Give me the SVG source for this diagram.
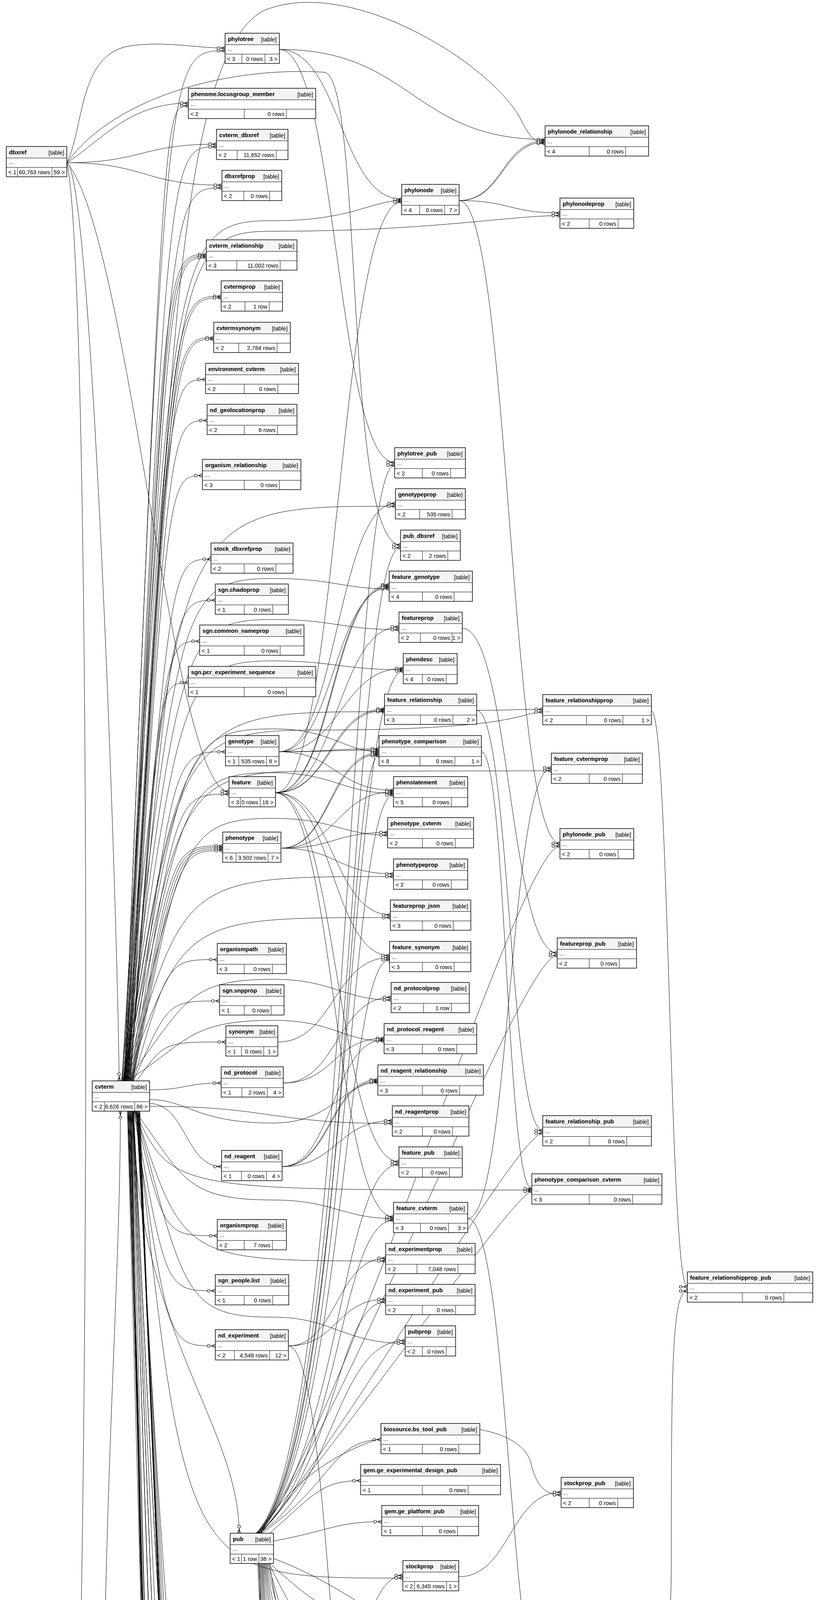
<svg xmlns="http://www.w3.org/2000/svg" xmlns:xlink="http://www.w3.org/1999/xlink" width="2096" height="6754" viewBox="0 0 2096 6754">
<style>
text{font-family:"Liberation Sans",Arial,Helvetica,sans-serif;font-size:14.67px;fill:#000}
.t{font-weight:bold}
.k,.r{text-anchor:end}
.w{fill:#fff}
.h{fill:#f4f4f4}
.l{fill:none;stroke:#000;stroke-width:1}
.o{fill:none;stroke:#000;stroke-width:1.5}
#connectors path{fill:none;stroke:#000;stroke-width:1;marker-end:url(#m)}
</style>
<defs>
<marker id="m" viewBox="0 0 24 12" refX="24" refY="6" markerWidth="24" markerHeight="12" markerUnits="userSpaceOnUse" orient="auto"><circle cx="7" cy="6" r="3.5" fill="#fff" stroke="#000" stroke-width="1.2"/><path d="M10.5,6H24M14,6L24,1.5M14,6L24,10.5" fill="none" stroke="#000" stroke-width="1.2"/></marker>
<g id="key"><circle cx="0" cy="-4" r="2.8" fill="none" stroke-width="1.8"/><path d="M0,-1.2V6M0,3.5H2.5M0,5.5H2" fill="none" stroke-width="1.6"/></g>
</defs>
<rect width="2096" height="6754" fill="#fff"/>
<g id="connectors">
<path d="M171,416.5 C235,440 300,2300 305,2767"/>
<path d="M171,416.5 C215,330 200,140 330,118 C420,104 500,123 576,123"/>
<path d="M171,416.5 C260,360 330,264 482,264"/>
<path d="M171,416.5 C362,416.5 362,369 554,369"/>
<path d="M171,416.5 C370,416.5 370,474 568,474"/>
<path d="M171,416.5 C330,600 440,2026 586,2026"/>
<path d="M171,416.5 C240,700 230,4600 175,4990 C150,5070 110,5080 120,5040 C140,4980 350,4852 572,4852"/>
<path d="M171,416.5 C300,240 600,170 830,185 C930,195 880,1395 1025,1395"/>
<path d="M318,2767 C425,130 425,130 576,130"/>
<path d="M318,2767 C420,271 420,271 482,271"/>
<path d="M319,2767 C430,376 430,376 554,376"/>
<path d="M320,2767 C435,481 435,481 568,481"/>
<path d="M321,2767 C420,651.5 420,651.5 528,651.5"/>
<path d="M322,2767 C426,655.5 426,655.5 528,655.5"/>
<path d="M323,2767 C432,659.5 432,659.5 528,659.5"/>
<path d="M324,2767 C440,758.5 440,758.5 566,758.5"/>
<path d="M325,2767 C446,762.5 446,762.5 566,762.5"/>
<path d="M326,2767 C436,864.5 436,864.5 547,864.5"/>
<path d="M327,2767 C442,868.5 442,868.5 547,868.5"/>
<path d="M328,2767 C430,971.5 430,971.5 526,971.5"/>
<path d="M329,2767 C432,1076.5 432,1076.5 530,1076.5"/>
<path d="M330,2767 C428,1217.5 428,1217.5 518,1217.5"/>
<path d="M331,2767 C436,1431.5 436,1431.5 540,1431.5"/>
<path d="M332,2767 C440,1536.5 440,1536.5 551,1536.5"/>
<path d="M333,2767 C420,1641.5 420,1641.5 511,1641.5"/>
<path d="M334,2767 C405,1747.5 405,1747.5 482,1747.5"/>
<path d="M335,2767 C445,1924.5 445,1924.5 577,1924.5"/>
<path d="M336,2767 C450,2033 450,2033 586,2033"/>
<path d="M337,2767 C440,2165.5 440,2165.5 570,2165.5"/>
<path d="M338,2767 C446,2169.5 446,2169.5 570,2169.5"/>
<path d="M339,2767 C452,2173.5 452,2173.5 570,2173.5"/>
<path d="M340,2767 C458,2177.5 458,2177.5 570,2177.5"/>
<path d="M341,2767 C430,2456.5 430,2456.5 556,2456.5"/>
<path d="M342,2767 C430,2562.5 430,2562.5 562,2562.5"/>
<path d="M350,2767 C420,2667.5 420,2667.5 578,2667.5"/>
<path d="M383,2790 C475,2790 475,2772.5 566,2772.5"/>
<path d="M383,2825 C475,2825 475,2986.5 567,2986.5"/>
<path d="M345,2844 C420,3163.5 420,3163.5 556,3163.5"/>
<path d="M344,2844 C425,3304.5 425,3304.5 551,3304.5"/>
<path d="M343,2844 C430,3445.5 430,3445.5 551,3445.5"/>
<path d="M342,2844 C345,3400 612,3650 612,3925"/>
<path d="M341,2844 C440,4859 440,4859 572,4859"/>
<path d="M340,2844 C420,4996.5 420,4996.5 530,4996.5"/>
<path d="M339,2844 C415,5246.5 415,5246.5 525,5246.5"/>
<path d="M338,2844 C400,5351.5 400,5351.5 489,5351.5"/>
<path d="M337,2844 C385,5456.5 385,5456.5 449,5456.5"/>
<path d="M336,2844 C392,5562.5 392,5562.5 466,5562.5"/>
<path d="M335,2844 C400,5668.5 400,5668.5 491,5668.5"/>
<path d="M334,2844 C405,5773.5 405,5773.5 505,5773.5"/>
<path d="M333,2844 C412,5913.5 412,5913.5 523,5913.5"/>
<path d="M332,2844 C425,6055.5 425,6055.5 586,6055.5"/>
<path d="M331,2844 C420,6232.5 420,6232.5 560,6232.5"/>
<path d="M330,2844 C425,6380.5 425,6380.5 585,6380.5"/>
<path d="M329,2844 C430,6551 430,6551 566,6551"/>
<path d="M328,2844 C436,6554.5 436,6554.5 566,6554.5"/>
<path d="M327,2844 C442,6561 442,6561 566,6561"/>
<path d="M326,2844 C430,6660 430,6660 588,6660"/>
<path d="M312,2767 C440,625 440,565 700,565 C900,565 950,513.5 1028,513.5"/>
<path d="M313,2767 C445,652 445,592 700,592 C1100,592 1300,552 1433,552"/>
<path d="M311,2767 C440,1500 400,150 680,25 C900,-60 1250,160 1330,300 C1350,340 1365,367.5 1395,367.5"/>
<path d="M314,2767 C455,1296 455,1296 1012,1296"/>
<path d="M315,2767 C458,1541 458,1481 700,1481 C850,1481 880,1507.5 996,1507.5"/>
<path d="M316,2767 C460,1646 460,1586 700,1586 C850,1586 880,1612 1021,1612"/>
<path d="M317,2767 C462,1752 462,1692 700,1692 C850,1692 880,1714.5 1032,1714.5"/>
<path d="M318,2767 C464,1822 464,1822 984,1822"/>
<path d="M319,2767 C466,1926 466,1866 700,1866 C850,1866 880,1924 970,1924"/>
<path d="M320,2767 C468,2038 468,1978 700,1978 C850,1978 880,2031 1007,2031"/>
<path d="M321,2767 C470,2155 470,2095 700,2095 C850,2095 880,2138 992,2138"/>
<path d="M322,2767 C472,2244 472,2244 1007,2244"/>
<path d="M323,2767 C474,2349 474,2349 999,2349"/>
<path d="M324,2767 C476,2567 476,2507 700,2507 C850,2507 880,2560 1001,2560"/>
<path d="M325,2767 C478,2672 478,2612 700,2612 C850,2612 880,2665 983,2665"/>
<path d="M316,2767 C455,1929 455,1869 800,1869 C1330,1869 1330,1823 1389,1823"/>
<path d="M317,2767 C457,2034 457,1974 800,1974 C1330,1974 1330,1973 1411,1973"/>
<path d="M383,2815 C480,2815 500,2875 700,2875 C850,2875 880,2771 967,2771"/>
<path d="M383,2832 C690,2832 690,2876 1004,2876"/>
<path d="M345,2844 C470,3012 470,3072 700,3072 C850,3072 880,3119.5 1007,3119.5"/>
<path d="M346,2844 C470,3228 470,3228 987,3228"/>
<path d="M347,2844 C472,3312 472,3372 700,3372 C850,3372 880,3439 1037,3439"/>
<path d="M348,2844 C474,4040 474,4040 1031,4040"/>
<path d="M349,2844 C476,5134 476,5134 980,5134"/>
<path d="M350,2844 C478,5236 478,5296 700,5296 C850,5296 880,5326 965,5326"/>
<path d="M351,2844 C480,5443 480,5503 700,5503 C850,5503 880,5582 993,5582"/>
<path d="M352,2844 C482,5658 482,5718 700,5718 C850,5718 880,5684.5 1016,5684.5"/>
<path d="M353,2844 C484,5823 484,5823 939,5823"/>
<path d="M354,2844 C486,5920 486,5980 700,5980 C850,5980 880,6077 949,6077"/>
<path d="M355,2844 C488,6181 488,6181 985,6181"/>
<path d="M356,2844 C490,6286 490,6286 1023,6286"/>
<path d="M357,2844 C492,6240 492,6300 700,6300 C850,6300 880,6392 1008,6392"/>
<path d="M358,2844 C494,6497 494,6497 985,6497"/>
<path d="M345,2844 C440,3046.5 440,3046.5 1361,3046.5"/>
<path d="M342,2844 C450,5120 450,5180 800,5180 C1330,5180 1330,5193 1385,5193"/>
<path d="M341,2844 C450,5446 450,5506 800,5506 C1330,5506 1330,5579.5 1383,5579.5"/>
<path d="M340,2844 C450,5785 450,5845 800,5845 C1330,5845 1330,5846 1421,5846"/>
<path d="M339,2844 C450,6378 450,6438 800,6438 C1330,6438 1330,6479 1413,6479"/>
<path d="M655,3925 C890,3700 890,1191 1010,1191"/>
<path d="M656,3925 C895,3700 895,1402 1025,1402"/>
<path d="M657,3925 C890,3700 890,1718 1032,1718"/>
<path d="M658,3925 C885,3700 885,1934.5 970,1934.5"/>
<path d="M659,3925 C890,3700 890,2035 1007,2035"/>
<path d="M660,3925 C880,3700 880,2457 997,2457"/>
<path d="M661,3925 C875,3700 875,2981 1021,2981"/>
<path d="M662,3925 C870,3750 870,3124 1007,3124"/>
<path d="M663,3925 C865,3750 865,3333 987,3333"/>
<path d="M664,3925 C860,3800 860,3432 1037,3432"/>
<path d="M670,3925 C850,3800 850,3685.5 975,3685.5"/>
<path d="M690,3925 C800,3830 820,3790.5 923,3790.5"/>
<path d="M700,3945 C840,3920 860,3895.5 977,3895.5"/>
<path d="M665,3925 C900,3600 1330,2166 1433,2166"/>
<path d="M666,3925 C900,3600 1335,2446 1426,2446"/>
<path d="M667,3925 C900,3650 1325,2901 1389,2901"/>
<path d="M668,3925 C900,3650 1320,3050 1361,3050"/>
<path d="M665,3925 C850,3600 1330,3600 1360,3750 C1375,3810 1400,3827 1436,3827"/>
<path d="M690,4002 C760,4500 1000,4790 1250,4765 C1600,4730 1718,4480 1718,4000 C1718,3500 1720,3305 1759,3305"/>
<path d="M690,4002 C800,4100 850,4141.5 955,4141.5"/>
<path d="M688,4002 C760,4150 840,4283.5 947,4283.5"/>
<path d="M686,4002 C740,4200 800,4388.5 906,4388.5"/>
<path d="M684,4002 C730,4250 860,4493.5 976,4493.5"/>
<path d="M682,4002 C720,4300 870,4599.5 1008,4599.5"/>
<path d="M680,4002 C715,4350 870,4704.5 1020,4704.5"/>
<path d="M678,4002 C710,4400 870,4845.5 1028,4845.5"/>
<path d="M676,4002 C705,4450 840,4951.5 960,4951.5"/>
<path d="M674,4002 C700,4600 850,5268 965,5268"/>
<path d="M672,4002 C695,4650 850,5297 965,5297"/>
<path d="M670,4002 C690,4700 880,5442 1031,5442"/>
<path d="M668,4002 C685,4800 880,5689 1016,5689"/>
<path d="M666,4002 C680,4900 820,5830 939,5830"/>
<path d="M664,4002 C675,5000 880,5936 1023,5936"/>
<path d="M700,3990 C1000,4100 1300,4426 1411,4426"/>
<path d="M662,4002 C700,5000 1300,5418 1398,5418"/>
<path d="M660,4002 C690,5100 1300,5583 1383,5583"/>
<path d="M715,126.5 C871,126.5 871,510 1028,510"/>
<path d="M715,126.5 C862,126.5 862,1184 1010,1184"/>
<path d="M715,126.5 C1055,126.5 1055,357 1395,357"/>
<path d="M705,2029.5 C866,2029.5 866,517 1028,517"/>
<path d="M705,2029.5 C850,2029.5 850,1497 996,1497"/>
<path d="M705,2029.5 C852,2029.5 852,1500.5 996,1500.5"/>
<path d="M705,2029.5 C863,2029.5 863,1605 1021,1605"/>
<path d="M705,2029.5 C844,2029.5 844,1815 984,1815"/>
<path d="M705,2029.5 C846,2029.5 846,1818.5 984,1818.5"/>
<path d="M705,2029.5 C852,2029.5 852,2342 999,2342"/>
<path d="M705,2029.5 C851,2029.5 851,2446 997,2446"/>
<path d="M705,2029.5 C863,2029.5 863,2974 1021,2974"/>
<path d="M705,2029.5 C856,2029.5 856,3115 1007,3115"/>
<path d="M714,1924.5 C863,1924.5 863,1289 1012,1289"/>
<path d="M714,1924.5 C855,1924.5 855,1504 996,1504"/>
<path d="M714,1924.5 C873,1924.5 873,1711 1032,1711"/>
<path d="M714,1924.5 C842,1924.5 842,1917 970,1917"/>
<path d="M714,1924.5 C842,1924.5 842,1920.5 970,1920.5"/>
<path d="M714,1924.5 C860,1924.5 860,2023 1007,2023"/>
<path d="M719,2171.5 C844,2171.5 844,1927.5 970,1927.5"/>
<path d="M719,2171.5 C846,2171.5 846,1931 970,1931"/>
<path d="M719,2171.5 C863,2171.5 863,2027 1007,2027"/>
<path d="M719,2171.5 C855,2171.5 855,2131 992,2131"/>
<path d="M719,2171.5 C863,2171.5 863,2237 1007,2237"/>
<path d="M711,2667.5 C854,2667.5 854,2451.5 997,2451.5"/>
<path d="M725,2772.5 C863,2772.5 863,2553 1001,2553"/>
<path d="M725,2772.5 C854,2772.5 854,2658 983,2658"/>
<path d="M722,2986.5 C852,2986.5 852,2661.5 983,2661.5"/>
<path d="M722,2986.5 C844,2986.5 844,2764 967,2764"/>
<path d="M722,2986.5 C846,2986.5 846,2767.5 967,2767.5"/>
<path d="M722,2986.5 C863,2986.5 863,2869 1004,2869"/>
<path d="M738,3445.5 C862,3445.5 862,3221 987,3221"/>
<path d="M738,3445.5 C862,3445.5 862,3326 987,3326"/>
<path d="M738,3445.5 C859,3445.5 859,5125 980,5125"/>
<path d="M718,4855.5 C874,4855.5 874,4033 1031,4033"/>
<path d="M718,4855.5 C849,4855.5 849,5129.5 980,5129.5"/>
<path d="M718,4855.5 C874,4855.5 874,5435 1031,5435"/>
<path d="M718,4855.5 C855,4855.5 855,5573 993,5573"/>
<path d="M718,4855.5 C857,4855.5 857,5576.5 993,5576.5"/>
<path d="M718,4855.5 C867,4855.5 867,5680 1016,5680"/>
<path d="M705,6055.5 C864,6055.5 864,5929 1023,5929"/>
<path d="M705,6055.5 C827,6055.5 827,6070 949,6070"/>
<path d="M705,6055.5 C845,6055.5 845,6172 985,6172"/>
<path d="M705,6055.5 C847,6055.5 847,6175.5 985,6175.5"/>
<path d="M705,6055.5 C864,6055.5 864,6279 1023,6279"/>
<path d="M705,6380.5 C856,6380.5 856,6385 1008,6385"/>
<path d="M705,6380.5 C845,6380.5 845,6487 985,6487"/>
<path d="M705,6380.5 C847,6380.5 847,6490.5 985,6490.5"/>
<path d="M147,6557.5 C350,6557.5 350,6557.5 566,6557.5"/>
<path d="M147,6557.5 C370,6557.5 370,6666 588,6666"/>
<path d="M147,6557.5 C230,6540 262,5600 262,4800 C262,3800 308,3300 308,2844"/>
<path d="M1175,513.5 C1285,513.5 1285,360.5 1395,360.5"/>
<path d="M1175,513.5 C1287,513.5 1287,364 1395,364"/>
<path d="M1175,513.5 C1304,513.5 1304,545 1433,545"/>
<path d="M1175,513.5 C1304,513.5 1304,2159 1433,2159"/>
<path d="M1183,1608.5 C1304,1608.5 1304,2439 1426,2439"/>
<path d="M1220,1818.5 C1304,1818.5 1304,1816 1389,1816"/>
<path d="M1220,1818.5 C1304,1818.5 1304,2894 1389,2894"/>
<path d="M1232,1924.5 C1296,1924.5 1296,3043 1361,3043"/>
<path d="M1197,3119.5 C1304,3119.5 1304,1966 1411,1966"/>
<path d="M1197,3119.5 C1304,3119.5 1304,4419 1411,4419"/>
<path d="M1174,4036.5 C1305,4036.5 1305,3820 1436,3820"/>
<path d="M1222,5129.5 C1303,5129.5 1303,5186 1385,5186"/>
<path d="M1210,5579.5 C1304,5579.5 1304,5411 1398,5411"/>
<path d="M1210,5579.5 C1296,5579.5 1296,5576 1383,5576"/>
<path d="M1188,5684.5 C1304,5684.5 1304,5839 1421,5839"/>
<path d="M1196,6388.5 C1304,6388.5 1304,6472 1413,6472"/>
<path d="M1667,1819.5 C1713,1819.5 1713,3294 1759,3294"/>
</g>
<g id="nodes">
<g id="dbxref" transform="translate(16,375)"><rect class="w" width="155" height="77.5"/><rect class="h" width="155" height="29.5"/><path class="l" d="M0,29.5H155M0,53.5H155M29,53.5V77.5M117,53.5V77.5"/><text class="t" x="7" y="19.5">dbxref</text><text class="k" x="148" y="20.5">[table]</text><text x="6" y="45">...</text><text x="5" y="70.5">&lt; 1</text><text class="r" x="112" y="70.5">60,763 rows</text><text class="r" x="150" y="70.5">59 &gt;</text><rect class="o" width="155" height="77.5"/></g>
<g id="cvterm" transform="translate(236,2767)"><rect class="w" width="147" height="77.5"/><rect class="h" width="147" height="29.5"/><path class="l" d="M0,29.5H147M0,53.5H147M31,53.5V77.5M109,53.5V77.5"/><text class="t" x="7" y="19.5">cvterm</text><text class="k" x="140" y="20.5">[table]</text><text x="6" y="45">...</text><text x="5" y="70.5">&lt; 2</text><text class="r" x="104" y="70.5">8,626 rows</text><text class="r" x="142" y="70.5">86 &gt;</text><rect class="o" width="147" height="77.5"/></g>
<g id="cv" transform="translate(40,6516)"><rect class="w" width="107" height="77.5"/><rect class="h" width="107" height="29.5"/><path class="l" d="M0,29.5H107M0,53.5H107M17,53.5V77.5M77,53.5V77.5"/><text class="t" x="7" y="19.5">cv</text><text class="k" x="100" y="20.5">[table]</text><text x="6" y="45">...</text><text class="r" x="72" y="70.5">45 rows</text><text class="r" x="102" y="70.5">4 &gt;</text><rect class="o" width="107" height="77.5"/></g>
<g id="phylotree" transform="translate(576,85)"><rect class="w" width="139" height="77.5"/><rect class="h" width="139" height="29.5"/><path class="l" d="M0,29.5H139M0,53.5H139M43,53.5V77.5M102,53.5V77.5"/><text class="t" x="7" y="19.5">phylotree</text><text class="k" x="132" y="20.5">[table]</text><text x="6" y="45">...</text><text x="5" y="70.5">&lt; 3</text><text class="r" x="97" y="70.5">0 rows</text><text class="r" x="134" y="70.5">3 &gt;</text><rect class="o" width="139" height="77.5"/></g>
<g id="phenome_locusgroup_member" transform="translate(482,226)"><rect class="w" width="326" height="77.5"/><rect class="h" width="326" height="29.5"/><path class="l" d="M0,29.5H326M0,53.5H326M143,53.5V77.5M251,53.5V77.5"/><text class="t" x="7" y="19.5">phenome.locusgroup_member</text><text class="k" x="319" y="20.5">[table]</text><text x="6" y="45">...</text><text x="5" y="70.5">&lt; 2</text><text class="r" x="246" y="70.5">0 rows</text><rect class="o" width="326" height="77.5"/></g>
<g id="cvterm_dbxref" transform="translate(554,331)"><rect class="w" width="183" height="77.5"/><rect class="h" width="183" height="29.5"/><path class="l" d="M0,29.5H183M0,53.5H183M53,53.5V77.5M153,53.5V77.5"/><text class="t" x="7" y="19.5">cvterm_dbxref</text><text class="k" x="176" y="20.5">[table]</text><text x="6" y="45">...</text><text x="5" y="70.5">&lt; 2</text><text class="r" x="148" y="70.5">11,652 rows</text><rect class="o" width="183" height="77.5"/></g>
<g id="dbxrefprop" transform="translate(568,436)"><rect class="w" width="153" height="77.5"/><rect class="h" width="153" height="29.5"/><path class="l" d="M0,29.5H153M0,53.5H153M56,53.5V77.5M122,53.5V77.5"/><text class="t" x="7" y="19.5">dbxrefprop</text><text class="k" x="146" y="20.5">[table]</text><text x="6" y="45">...</text><text x="5" y="70.5">&lt; 2</text><text class="r" x="117" y="70.5">0 rows</text><rect class="o" width="153" height="77.5"/></g>
<g id="cvterm_relationship" transform="translate(528,614)"><rect class="w" width="232" height="77.5"/><rect class="h" width="232" height="29.5"/><path class="l" d="M0,29.5H232M0,53.5H232M78,53.5V77.5M189,53.5V77.5"/><text class="t" x="7" y="19.5">cvterm_relationship</text><text class="k" x="225" y="20.5">[table]</text><text x="6" y="45">...</text><text x="5" y="70.5">&lt; 3</text><text class="r" x="184" y="70.5">11,002 rows</text><rect class="o" width="232" height="77.5"/></g>
<g id="cvtermprop" transform="translate(566,719)"><rect class="w" width="157" height="77.5"/><rect class="h" width="157" height="29.5"/><path class="l" d="M0,29.5H157M0,53.5H157M61,53.5V77.5M123,53.5V77.5"/><text class="t" x="7" y="19.5">cvtermprop</text><text class="k" x="150" y="20.5">[table]</text><text x="6" y="45">...</text><text x="5" y="70.5">&lt; 2</text><text class="r" x="118" y="70.5">1 row</text><rect class="o" width="157" height="77.5"/></g>
<g id="cvtermsynonym" transform="translate(547,825)"><rect class="w" width="196" height="77.5"/><rect class="h" width="196" height="29.5"/><path class="l" d="M0,29.5H196M0,53.5H196M64,53.5V77.5M162,53.5V77.5"/><text class="t" x="7" y="19.5">cvtermsynonym</text><text class="k" x="189" y="20.5">[table]</text><text x="6" y="45">...</text><text x="5" y="70.5">&lt; 2</text><text class="r" x="157" y="70.5">2,784 rows</text><rect class="o" width="196" height="77.5"/></g>
<g id="environment_cvterm" transform="translate(526,930)"><rect class="w" width="238" height="77.5"/><rect class="h" width="238" height="29.5"/><path class="l" d="M0,29.5H238M0,53.5H238M99,53.5V77.5M185,53.5V77.5"/><text class="t" x="7" y="19.5">environment_cvterm</text><text class="k" x="231" y="20.5">[table]</text><text x="6" y="45">...</text><text x="5" y="70.5">&lt; 2</text><text class="r" x="180" y="70.5">0 rows</text><rect class="o" width="238" height="77.5"/></g>
<g id="nd_geolocationprop" transform="translate(530,1035)"><rect class="w" width="230" height="77.5"/><rect class="h" width="230" height="29.5"/><path class="l" d="M0,29.5H230M0,53.5H230M95,53.5V77.5M180,53.5V77.5"/><text class="t" x="7" y="19.5">nd_geolocationprop</text><text class="k" x="223" y="20.5">[table]</text><text x="6" y="45">...</text><text x="5" y="70.5">&lt; 2</text><text class="r" x="175" y="70.5">6 rows</text><rect class="o" width="230" height="77.5"/></g>
<g id="organism_relationship" transform="translate(518,1176)"><rect class="w" width="252" height="77.5"/><rect class="h" width="252" height="29.5"/><path class="l" d="M0,29.5H252M0,53.5H252M107,53.5V77.5M197,53.5V77.5"/><text class="t" x="7" y="19.5">organism_relationship</text><text class="k" x="245" y="20.5">[table]</text><text x="6" y="45">...</text><text x="5" y="70.5">&lt; 3</text><text class="r" x="192" y="70.5">0 rows</text><rect class="o" width="252" height="77.5"/></g>
<g id="stock_dbxrefprop" transform="translate(540,1390)"><rect class="w" width="210" height="77.5"/><rect class="h" width="210" height="29.5"/><path class="l" d="M0,29.5H210M0,53.5H210M85,53.5V77.5M166,53.5V77.5"/><text class="t" x="7" y="19.5">stock_dbxrefprop</text><text class="k" x="203" y="20.5">[table]</text><text x="6" y="45">...</text><text x="5" y="70.5">&lt; 2</text><text class="r" x="161" y="70.5">0 rows</text><rect class="o" width="210" height="77.5"/></g>
<g id="sgn_chadoprop" transform="translate(551,1495)"><rect class="w" width="187" height="77.5"/><rect class="h" width="187" height="29.5"/><path class="l" d="M0,29.5H187M0,53.5H187M74,53.5V77.5M147,53.5V77.5"/><text class="t" x="7" y="19.5">sgn.chadoprop</text><text class="k" x="180" y="20.5">[table]</text><text x="6" y="45">...</text><text x="5" y="70.5">&lt; 1</text><text class="r" x="142" y="70.5">0 rows</text><rect class="o" width="187" height="77.5"/></g>
<g id="sgn_common_nameprop" transform="translate(511,1600)"><rect class="w" width="267" height="77.5"/><rect class="h" width="267" height="29.5"/><path class="l" d="M0,29.5H267M0,53.5H267M114,53.5V77.5M206,53.5V77.5"/><text class="t" x="7" y="19.5">sgn.common_nameprop</text><text class="k" x="260" y="20.5">[table]</text><text x="6" y="45">...</text><text x="5" y="70.5">&lt; 1</text><text class="r" x="201" y="70.5">0 rows</text><rect class="o" width="267" height="77.5"/></g>
<g id="sgn_pcr_experiment_sequence" transform="translate(482,1706)"><rect class="w" width="326" height="77.5"/><rect class="h" width="326" height="29.5"/><path class="l" d="M0,29.5H326M0,53.5H326M143,53.5V77.5M251,53.5V77.5"/><text class="t" x="7" y="19.5">sgn.pcr_experiment_sequence</text><text class="k" x="319" y="20.5">[table]</text><text x="6" y="45">...</text><text x="5" y="70.5">&lt; 1</text><text class="r" x="246" y="70.5">0 rows</text><rect class="o" width="326" height="77.5"/></g>
<g id="genotype" transform="translate(577,1883)"><rect class="w" width="137" height="77.5"/><rect class="h" width="137" height="29.5"/><path class="l" d="M0,29.5H137M0,53.5H137M34,53.5V77.5M105,53.5V77.5"/><text class="t" x="7" y="19.5">genotype</text><text class="k" x="130" y="20.5">[table]</text><text x="6" y="45">...</text><text x="5" y="70.5">&lt; 1</text><text class="r" x="100" y="70.5">535 rows</text><text class="r" x="132" y="70.5">8 &gt;</text><rect class="o" width="137" height="77.5"/></g>
<g id="feature" transform="translate(586,1988)"><rect class="w" width="119" height="77.5"/><rect class="h" width="119" height="29.5"/><path class="l" d="M0,29.5H119M0,53.5H119M29,53.5V77.5M80,53.5V77.5"/><text class="t" x="7" y="19.5">feature</text><text class="k" x="112" y="20.5">[table]</text><text x="6" y="45">...</text><text x="5" y="70.5">&lt; 3</text><text class="r" x="75" y="70.5">0 rows</text><text class="r" x="114" y="70.5">16 &gt;</text><rect class="o" width="119" height="77.5"/></g>
<g id="phenotype" transform="translate(570,2130)"><rect class="w" width="149" height="77.5"/><rect class="h" width="149" height="29.5"/><path class="l" d="M0,29.5H149M0,53.5H149M34,53.5V77.5M116,53.5V77.5"/><text class="t" x="7" y="19.5">phenotype</text><text class="k" x="142" y="20.5">[table]</text><text x="6" y="45">...</text><text x="5" y="70.5">&lt; 6</text><text class="r" x="111" y="70.5">3,502 rows</text><text class="r" x="144" y="70.5">7 &gt;</text><rect class="o" width="149" height="77.5"/></g>
<g id="organismpath" transform="translate(556,2415)"><rect class="w" width="177" height="77.5"/><rect class="h" width="177" height="29.5"/><path class="l" d="M0,29.5H177M0,53.5H177M69,53.5V77.5M141,53.5V77.5"/><text class="t" x="7" y="19.5">organismpath</text><text class="k" x="170" y="20.5">[table]</text><text x="6" y="45">...</text><text x="5" y="70.5">&lt; 3</text><text class="r" x="136" y="70.5">0 rows</text><rect class="o" width="177" height="77.5"/></g>
<g id="sgn_snpprop" transform="translate(562,2521)"><rect class="w" width="165" height="77.5"/><rect class="h" width="165" height="29.5"/><path class="l" d="M0,29.5H165M0,53.5H165M63,53.5V77.5M132,53.5V77.5"/><text class="t" x="7" y="19.5">sgn.snpprop</text><text class="k" x="158" y="20.5">[table]</text><text x="6" y="45">...</text><text x="5" y="70.5">&lt; 1</text><text class="r" x="127" y="70.5">0 rows</text><rect class="o" width="165" height="77.5"/></g>
<g id="synonym" transform="translate(578,2626)"><rect class="w" width="133" height="77.5"/><rect class="h" width="133" height="29.5"/><path class="l" d="M0,29.5H133M0,53.5H133M40,53.5V77.5M97,53.5V77.5"/><text class="t" x="7" y="19.5">synonym</text><text class="k" x="126" y="20.5">[table]</text><text x="6" y="45">...</text><text x="5" y="70.5">&lt; 1</text><text class="r" x="92" y="70.5">0 rows</text><text class="r" x="128" y="70.5">1 &gt;</text><rect class="o" width="133" height="77.5"/></g>
<g id="nd_protocol" transform="translate(566,2731)"><rect class="w" width="159" height="77.5"/><rect class="h" width="159" height="29.5"/><path class="l" d="M0,29.5H159M0,53.5H159M53,53.5V77.5M118,53.5V77.5"/><text class="t" x="7" y="19.5">nd_protocol</text><text class="k" x="152" y="20.5">[table]</text><text x="6" y="45">...</text><text x="5" y="70.5">&lt; 1</text><text class="r" x="113" y="70.5">2 rows</text><text class="r" x="154" y="70.5">4 &gt;</text><rect class="o" width="159" height="77.5"/></g>
<g id="nd_reagent" transform="translate(567,2945)"><rect class="w" width="155" height="77.5"/><rect class="h" width="155" height="29.5"/><path class="l" d="M0,29.5H155M0,53.5H155M51,53.5V77.5M115,53.5V77.5"/><text class="t" x="7" y="19.5">nd_reagent</text><text class="k" x="148" y="20.5">[table]</text><text x="6" y="45">...</text><text x="5" y="70.5">&lt; 1</text><text class="r" x="110" y="70.5">0 rows</text><text class="r" x="150" y="70.5">4 &gt;</text><rect class="o" width="155" height="77.5"/></g>
<g id="organismprop" transform="translate(556,3122)"><rect class="w" width="177" height="77.5"/><rect class="h" width="177" height="29.5"/><path class="l" d="M0,29.5H177M0,53.5H177M69,53.5V77.5M141,53.5V77.5"/><text class="t" x="7" y="19.5">organismprop</text><text class="k" x="170" y="20.5">[table]</text><text x="6" y="45">...</text><text x="5" y="70.5">&lt; 2</text><text class="r" x="136" y="70.5">7 rows</text><rect class="o" width="177" height="77.5"/></g>
<g id="sgn_people_list" transform="translate(551,3263)"><rect class="w" width="188" height="77.5"/><rect class="h" width="188" height="29.5"/><path class="l" d="M0,29.5H188M0,53.5H188M74,53.5V77.5M147,53.5V77.5"/><text class="t" x="7" y="19.5">sgn_people.list</text><text class="k" x="181" y="20.5">[table]</text><text x="6" y="45">...</text><text x="5" y="70.5">&lt; 1</text><text class="r" x="142" y="70.5">0 rows</text><rect class="o" width="188" height="77.5"/></g>
<g id="nd_experiment" transform="translate(551,3404)"><rect class="w" width="187" height="77.5"/><rect class="h" width="187" height="29.5"/><path class="l" d="M0,29.5H187M0,53.5H187M49,53.5V77.5M139,53.5V77.5"/><text class="t" x="7" y="19.5">nd_experiment</text><text class="k" x="180" y="20.5">[table]</text><text x="6" y="45">...</text><text x="5" y="70.5">&lt; 2</text><text class="r" x="134" y="70.5">4,548 rows</text><text class="r" x="182" y="70.5">12 &gt;</text><rect class="o" width="187" height="77.5"/></g>
<g id="pub" transform="translate(589,3925)"><rect class="w" width="111" height="77.5"/><rect class="h" width="111" height="29.5"/><path class="l" d="M0,29.5H111M0,53.5H111M29,53.5V77.5M73.5,53.5V77.5"/><text class="t" x="7" y="19.5">pub</text><text class="k" x="104" y="20.5">[table]</text><text x="6" y="45">...</text><text x="5" y="70.5">&lt; 1</text><text class="r" x="68.5" y="70.5">1 row</text><text class="r" x="106" y="70.5">36 &gt;</text><rect class="o" width="111" height="77.5"/></g>
<g id="stock" transform="translate(572,4814)"><rect class="w" width="146" height="77.5"/><rect class="h" width="146" height="29.5"/><path class="l" d="M0,29.5H146M0,53.5H146M28,53.5V77.5M110,53.5V77.5"/><text class="t" x="7" y="19.5">stock</text><text class="k" x="139" y="20.5">[table]</text><text x="6" y="45">...</text><text x="5" y="70.5">&lt; 3</text><text class="r" x="105" y="70.5">2,940 rows</text><text class="r" x="141" y="70.5">20 &gt;</text><rect class="o" width="146" height="77.5"/></g>
<g id="sgn_people_listprop" transform="translate(530,4955)"><rect class="w" width="230" height="77.5"/><rect class="h" width="230" height="29.5"/><path class="l" d="M0,29.5H230M0,53.5H230M95,53.5V77.5M180,53.5V77.5"/><text class="t" x="7" y="19.5">sgn_people.listprop</text><text class="k" x="223" y="20.5">[table]</text><text x="6" y="45">...</text><text x="5" y="70.5">&lt; 1</text><text class="r" x="175" y="70.5">0 rows</text><rect class="o" width="230" height="77.5"/></g>
<g id="biosource_bs_sample" transform="translate(525,5205)"><rect class="w" width="240" height="77.5"/><rect class="h" width="240" height="29.5"/><path class="l" d="M0,29.5H240M0,53.5H240M100,53.5V77.5M186,53.5V77.5"/><text class="t" x="7" y="19.5">biosource.bs_sample</text><text class="k" x="233" y="20.5">[table]</text><text x="6" y="45">...</text><text x="5" y="70.5">&lt; 2</text><text class="r" x="181" y="70.5">0 rows</text><rect class="o" width="240" height="77.5"/></g>
<g id="biosource_bs_sample_cvterm" transform="translate(489,5310)"><rect class="w" width="311" height="77.5"/><rect class="h" width="311" height="29.5"/><path class="l" d="M0,29.5H311M0,53.5H311M136,53.5V77.5M240,53.5V77.5"/><text class="t" x="7" y="19.5">biosource.bs_sample_cvterm</text><text class="k" x="304" y="20.5">[table]</text><text x="6" y="45">...</text><text x="5" y="70.5">&lt; 1</text><text class="r" x="235" y="70.5">0 rows</text><rect class="o" width="311" height="77.5"/></g>
<g id="biosource_bs_sample_element_cvterm" transform="translate(449,5415)"><rect class="w" width="393" height="77.5"/><rect class="h" width="393" height="29.5"/><path class="l" d="M0,29.5H393M0,53.5H393M176,53.5V77.5M301,53.5V77.5"/><text class="t" x="7" y="19.5">biosource.bs_sample_element_cvterm</text><text class="k" x="386" y="20.5">[table]</text><text x="6" y="45">...</text><text x="5" y="70.5">&lt; 1</text><text class="r" x="296" y="70.5">0 rows</text><rect class="o" width="393" height="77.5"/></g>
<g id="biosource_bs_sample_relationship" transform="translate(466,5521)"><rect class="w" width="358" height="77.5"/><rect class="h" width="358" height="29.5"/><path class="l" d="M0,29.5H358M0,53.5H358M159,53.5V77.5M275,53.5V77.5"/><text class="t" x="7" y="19.5">biosource.bs_sample_relationship</text><text class="k" x="351" y="20.5">[table]</text><text x="6" y="45">...</text><text x="5" y="70.5">&lt; 1</text><text class="r" x="270" y="70.5">0 rows</text><rect class="o" width="358" height="77.5"/></g>
<g id="metadata_md_image_cvterm" transform="translate(491,5627)"><rect class="w" width="309" height="77.5"/><rect class="h" width="309" height="29.5"/><path class="l" d="M0,29.5H309M0,53.5H309M134,53.5V77.5M238,53.5V77.5"/><text class="t" x="7" y="19.5">metadata.md_image_cvterm</text><text class="k" x="302" y="20.5">[table]</text><text x="6" y="45">...</text><text x="5" y="70.5">&lt; 1</text><text class="r" x="233" y="70.5">0 rows</text><rect class="o" width="309" height="77.5"/></g>
<g id="sgn_people_sp_orderprop" transform="translate(505,5732)"><rect class="w" width="280" height="77.5"/><rect class="h" width="280" height="29.5"/><path class="l" d="M0,29.5H280M0,53.5H280M120,53.5V77.5M217,53.5V77.5"/><text class="t" x="7" y="19.5">sgn_people.sp_orderprop</text><text class="k" x="273" y="20.5">[table]</text><text x="6" y="45">...</text><text x="5" y="70.5">&lt; 1</text><text class="r" x="212" y="70.5">0 rows</text><rect class="o" width="280" height="77.5"/></g>
<g id="phenome_locusgroup" transform="translate(523,5872)"><rect class="w" width="243" height="77.5"/><rect class="h" width="243" height="29.5"/><path class="l" d="M0,29.5H243M0,53.5H243M102,53.5V77.5M190.5,53.5V77.5"/><text class="t" x="7" y="19.5">phenome.locusgroup</text><text class="k" x="236" y="20.5">[table]</text><text x="6" y="45">...</text><text x="5" y="70.5">&lt; 1</text><text class="r" x="185.5" y="70.5">0 rows</text><rect class="o" width="243" height="77.5"/></g>
<g id="project" transform="translate(586,6014)"><rect class="w" width="119" height="77.5"/><rect class="h" width="119" height="29.5"/><path class="l" d="M0,29.5H119M0,53.5H119M29,53.5V77.5M90,53.5V77.5"/><text class="t" x="7" y="19.5">project</text><text class="k" x="112" y="20.5">[table]</text><text x="6" y="45">...</text><text x="5" y="70.5">&lt; 1</text><text class="r" x="85" y="70.5">31 rows</text><text class="r" x="114" y="70.5">9 &gt;</text><rect class="o" width="119" height="77.5"/></g>
<g id="analysisprop" transform="translate(560,6191)"><rect class="w" width="168" height="77.5"/><rect class="h" width="168" height="29.5"/><path class="l" d="M0,29.5H168M0,53.5H168M64,53.5V77.5M134,53.5V77.5"/><text class="t" x="7" y="19.5">analysisprop</text><text class="k" x="161" y="20.5">[table]</text><text x="6" y="45">...</text><text x="5" y="70.5">&lt; 2</text><text class="r" x="129" y="70.5">0 rows</text><rect class="o" width="168" height="77.5"/></g>
<g id="contact" transform="translate(585,6339)"><rect class="w" width="120" height="77.5"/><rect class="h" width="120" height="29.5"/><path class="l" d="M0,29.5H120M0,53.5H120M33,53.5V77.5M88,53.5V77.5"/><text class="t" x="7" y="19.5">contact</text><text class="k" x="113" y="20.5">[table]</text><text x="6" y="45">...</text><text x="5" y="70.5">&lt; 1</text><text class="r" x="83" y="70.5">0 rows</text><text class="r" x="115" y="70.5">5 &gt;</text><rect class="o" width="120" height="77.5"/></g>
<g id="cvtermpath" transform="translate(566,6516)"><rect class="w" width="157" height="77.5"/><rect class="h" width="157" height="29.5"/><path class="l" d="M0,29.5H157M0,53.5H157M44,53.5V77.5M133,53.5V77.5"/><text class="t" x="7" y="19.5">cvtermpath</text><text class="k" x="150" y="20.5">[table]</text><text x="6" y="45">...</text><text x="5" y="70.5">&lt; 4</text><text class="r" x="128" y="70.5">2,435 rows</text><rect class="o" width="157" height="77.5"/></g>
<g id="cvprop" transform="translate(588,6622)"><rect class="w" width="114" height="77.5"/><rect class="h" width="114" height="29.5"/><path class="l" d="M0,29.5H114M0,53.5H114M36,53.5V77.5M94,53.5V77.5"/><text class="t" x="7" y="19.5">cvprop</text><text class="k" x="107" y="20.5">[table]</text><text x="6" y="45">...</text><text x="5" y="70.5">&lt; 2</text><text class="r" x="89" y="70.5">6 rows</text><rect class="o" width="114" height="77.5"/></g>
<g id="phylonode" transform="translate(1028,472)"><rect class="w" width="147" height="77.5"/><rect class="h" width="147" height="29.5"/><path class="l" d="M0,29.5H147M0,53.5H147M46,53.5V77.5M110,53.5V77.5"/><text class="t" x="7" y="19.5">phylonode</text><text class="k" x="140" y="20.5">[table]</text><text x="6" y="45">...</text><text x="5" y="70.5">&lt; 4</text><text class="r" x="105" y="70.5">0 rows</text><text class="r" x="142" y="70.5">7 &gt;</text><rect class="o" width="147" height="77.5"/></g>
<g id="phylotree_pub" transform="translate(1010,1146)"><rect class="w" width="181" height="77.5"/><rect class="h" width="181" height="29.5"/><path class="l" d="M0,29.5H181M0,53.5H181M71,53.5V77.5M143,53.5V77.5"/><text class="t" x="7" y="19.5">phylotree_pub</text><text class="k" x="174" y="20.5">[table]</text><text x="6" y="45">...</text><text x="5" y="70.5">&lt; 2</text><text class="r" x="138" y="70.5">0 rows</text><rect class="o" width="181" height="77.5"/></g>
<g id="genotypeprop" transform="translate(1012,1251)"><rect class="w" width="179" height="77.5"/><rect class="h" width="179" height="29.5"/><path class="l" d="M0,29.5H179M0,53.5H179M62,53.5V77.5M145,53.5V77.5"/><text class="t" x="7" y="19.5">genotypeprop</text><text class="k" x="172" y="20.5">[table]</text><text x="6" y="45">...</text><text x="5" y="70.5">&lt; 2</text><text class="r" x="140" y="70.5">535 rows</text><rect class="o" width="179" height="77.5"/></g>
<g id="pub_dbxref" transform="translate(1025,1357)"><rect class="w" width="153" height="77.5"/><rect class="h" width="153" height="29.5"/><path class="l" d="M0,29.5H153M0,53.5H153M56,53.5V77.5M121,53.5V77.5"/><text class="t" x="7" y="19.5">pub_dbxref</text><text class="k" x="146" y="20.5">[table]</text><text x="6" y="45">...</text><text x="5" y="70.5">&lt; 2</text><text class="r" x="116" y="70.5">2 rows</text><rect class="o" width="153" height="77.5"/></g>
<g id="feature_genotype" transform="translate(996,1462)"><rect class="w" width="213" height="77.5"/><rect class="h" width="213" height="29.5"/><path class="l" d="M0,29.5H213M0,53.5H213M85,53.5V77.5M166,53.5V77.5"/><text class="t" x="7" y="19.5">feature_genotype</text><text class="k" x="206" y="20.5">[table]</text><text x="6" y="45">...</text><text x="5" y="70.5">&lt; 4</text><text class="r" x="161" y="70.5">0 rows</text><rect class="o" width="213" height="77.5"/></g>
<g id="featureprop" transform="translate(1021,1567)"><rect class="w" width="162" height="77.5"/><rect class="h" width="162" height="29.5"/><path class="l" d="M0,29.5H162M0,53.5H162M55,53.5V77.5M136,53.5V77.5"/><text class="t" x="7" y="19.5">featureprop</text><text class="k" x="155" y="20.5">[table]</text><text x="6" y="45">...</text><text x="5" y="70.5">&lt; 2</text><text class="r" x="131" y="70.5">0 rows</text><text class="r" x="157" y="70.5">1 &gt;</text><rect class="o" width="162" height="77.5"/></g>
<g id="phendesc" transform="translate(1032,1673)"><rect class="w" width="138" height="77.5"/><rect class="h" width="138" height="29.5"/><path class="l" d="M0,29.5H138M0,53.5H138M49,53.5V77.5M110,53.5V77.5"/><text class="t" x="7" y="19.5">phendesc</text><text class="k" x="131" y="20.5">[table]</text><text x="6" y="45">...</text><text x="5" y="70.5">&lt; 4</text><text class="r" x="105" y="70.5">0 rows</text><rect class="o" width="138" height="77.5"/></g>
<g id="feature_relationship" transform="translate(984,1777)"><rect class="w" width="236" height="77.5"/><rect class="h" width="236" height="29.5"/><path class="l" d="M0,29.5H236M0,53.5H236M92,53.5V77.5M175,53.5V77.5"/><text class="t" x="7" y="19.5">feature_relationship</text><text class="k" x="229" y="20.5">[table]</text><text x="6" y="45">...</text><text x="5" y="70.5">&lt; 3</text><text class="r" x="170" y="70.5">0 rows</text><text class="r" x="231" y="70.5">2 &gt;</text><rect class="o" width="236" height="77.5"/></g>
<g id="phenotype_comparison" transform="translate(970,1883)"><rect class="w" width="262" height="77.5"/><rect class="h" width="262" height="29.5"/><path class="l" d="M0,29.5H262M0,53.5H262M105,53.5V77.5M194,53.5V77.5"/><text class="t" x="7" y="19.5">phenotype_comparison</text><text class="k" x="255" y="20.5">[table]</text><text x="6" y="45">...</text><text x="5" y="70.5">&lt; 8</text><text class="r" x="189" y="70.5">0 rows</text><text class="r" x="257" y="70.5">1 &gt;</text><rect class="o" width="262" height="77.5"/></g>
<g id="phenstatement" transform="translate(1007,1988)"><rect class="w" width="190" height="77.5"/><rect class="h" width="190" height="29.5"/><path class="l" d="M0,29.5H190M0,53.5H190M74,53.5V77.5M148,53.5V77.5"/><text class="t" x="7" y="19.5">phenstatement</text><text class="k" x="183" y="20.5">[table]</text><text x="6" y="45">...</text><text x="5" y="70.5">&lt; 5</text><text class="r" x="143" y="70.5">0 rows</text><rect class="o" width="190" height="77.5"/></g>
<g id="phenotype_cvterm" transform="translate(992,2093)"><rect class="w" width="220" height="77.5"/><rect class="h" width="220" height="29.5"/><path class="l" d="M0,29.5H220M0,53.5H220M89,53.5V77.5M173,53.5V77.5"/><text class="t" x="7" y="19.5">phenotype_cvterm</text><text class="k" x="213" y="20.5">[table]</text><text x="6" y="45">...</text><text x="5" y="70.5">&lt; 2</text><text class="r" x="168" y="70.5">0 rows</text><rect class="o" width="220" height="77.5"/></g>
<g id="phenotypeprop" transform="translate(1007,2199)"><rect class="w" width="190" height="77.5"/><rect class="h" width="190" height="29.5"/><path class="l" d="M0,29.5H190M0,53.5H190M74,53.5V77.5M148,53.5V77.5"/><text class="t" x="7" y="19.5">phenotypeprop</text><text class="k" x="183" y="20.5">[table]</text><text x="6" y="45">...</text><text x="5" y="70.5">&lt; 2</text><text class="r" x="143" y="70.5">0 rows</text><rect class="o" width="190" height="77.5"/></g>
<g id="featureprop_json" transform="translate(999,2304)"><rect class="w" width="206" height="77.5"/><rect class="h" width="206" height="29.5"/><path class="l" d="M0,29.5H206M0,53.5H206M82,53.5V77.5M161,53.5V77.5"/><text class="t" x="7" y="19.5">featureprop_json</text><text class="k" x="199" y="20.5">[table]</text><text x="6" y="45">...</text><text x="5" y="70.5">&lt; 3</text><text class="r" x="156" y="70.5">0 rows</text><rect class="o" width="206" height="77.5"/></g>
<g id="feature_synonym" transform="translate(997,2410)"><rect class="w" width="208" height="77.5"/><rect class="h" width="208" height="29.5"/><path class="l" d="M0,29.5H208M0,53.5H208M84,53.5V77.5M165,53.5V77.5"/><text class="t" x="7" y="19.5">feature_synonym</text><text class="k" x="201" y="20.5">[table]</text><text x="6" y="45">...</text><text x="5" y="70.5">&lt; 3</text><text class="r" x="160" y="70.5">0 rows</text><rect class="o" width="208" height="77.5"/></g>
<g id="nd_protocolprop" transform="translate(1001,2515)"><rect class="w" width="200" height="77.5"/><rect class="h" width="200" height="29.5"/><path class="l" d="M0,29.5H200M0,53.5H200M83,53.5V77.5M154,53.5V77.5"/><text class="t" x="7" y="19.5">nd_protocolprop</text><text class="k" x="193" y="20.5">[table]</text><text x="6" y="45">...</text><text x="5" y="70.5">&lt; 2</text><text class="r" x="149" y="70.5">1 row</text><rect class="o" width="200" height="77.5"/></g>
<g id="nd_protocol_reagent" transform="translate(983,2620)"><rect class="w" width="237" height="77.5"/><rect class="h" width="237" height="29.5"/><path class="l" d="M0,29.5H237M0,53.5H237M98,53.5V77.5M186,53.5V77.5"/><text class="t" x="7" y="19.5">nd_protocol_reagent</text><text class="k" x="230" y="20.5">[table]</text><text x="6" y="45">...</text><text x="5" y="70.5">&lt; 3</text><text class="r" x="181" y="70.5">0 rows</text><rect class="o" width="237" height="77.5"/></g>
<g id="nd_reagent_relationship" transform="translate(967,2726)"><rect class="w" width="270" height="77.5"/><rect class="h" width="270" height="29.5"/><path class="l" d="M0,29.5H270M0,53.5H270M114,53.5V77.5M209,53.5V77.5"/><text class="t" x="7" y="19.5">nd_reagent_relationship</text><text class="k" x="263" y="20.5">[table]</text><text x="6" y="45">...</text><text x="5" y="70.5">&lt; 3</text><text class="r" x="204" y="70.5">0 rows</text><rect class="o" width="270" height="77.5"/></g>
<g id="nd_reagentprop" transform="translate(1004,2831)"><rect class="w" width="196" height="77.5"/><rect class="h" width="196" height="29.5"/><path class="l" d="M0,29.5H196M0,53.5H196M77,53.5V77.5M154,53.5V77.5"/><text class="t" x="7" y="19.5">nd_reagentprop</text><text class="k" x="189" y="20.5">[table]</text><text x="6" y="45">...</text><text x="5" y="70.5">&lt; 2</text><text class="r" x="149" y="70.5">0 rows</text><rect class="o" width="196" height="77.5"/></g>
<g id="feature_pub" transform="translate(1021,2936)"><rect class="w" width="162" height="77.5"/><rect class="h" width="162" height="29.5"/><path class="l" d="M0,29.5H162M0,53.5H162M60,53.5V77.5M129,53.5V77.5"/><text class="t" x="7" y="19.5">feature_pub</text><text class="k" x="155" y="20.5">[table]</text><text x="6" y="45">...</text><text x="5" y="70.5">&lt; 2</text><text class="r" x="124" y="70.5">0 rows</text><rect class="o" width="162" height="77.5"/></g>
<g id="feature_cvterm" transform="translate(1007,3078)"><rect class="w" width="190" height="77.5"/><rect class="h" width="190" height="29.5"/><path class="l" d="M0,29.5H190M0,53.5H190M69,53.5V77.5M141,53.5V77.5"/><text class="t" x="7" y="19.5">feature_cvterm</text><text class="k" x="183" y="20.5">[table]</text><text x="6" y="45">...</text><text x="5" y="70.5">&lt; 3</text><text class="r" x="136" y="70.5">0 rows</text><text class="r" x="185" y="70.5">3 &gt;</text><rect class="o" width="190" height="77.5"/></g>
<g id="nd_experimentprop" transform="translate(987,3183)"><rect class="w" width="229" height="77.5"/><rect class="h" width="229" height="29.5"/><path class="l" d="M0,29.5H229M0,53.5H229M80,53.5V77.5M185,53.5V77.5"/><text class="t" x="7" y="19.5">nd_experimentprop</text><text class="k" x="222" y="20.5">[table]</text><text x="6" y="45">...</text><text x="5" y="70.5">&lt; 2</text><text class="r" x="180" y="70.5">7,048 rows</text><rect class="o" width="229" height="77.5"/></g>
<g id="nd_experiment_pub" transform="translate(987,3288)"><rect class="w" width="229" height="77.5"/><rect class="h" width="229" height="29.5"/><path class="l" d="M0,29.5H229M0,53.5H229M94,53.5V77.5M179,53.5V77.5"/><text class="t" x="7" y="19.5">nd_experiment_pub</text><text class="k" x="222" y="20.5">[table]</text><text x="6" y="45">...</text><text x="5" y="70.5">&lt; 2</text><text class="r" x="174" y="70.5">0 rows</text><rect class="o" width="229" height="77.5"/></g>
<g id="pubprop" transform="translate(1037,3394)"><rect class="w" width="129" height="77.5"/><rect class="h" width="129" height="29.5"/><path class="l" d="M0,29.5H129M0,53.5H129M44,53.5V77.5M105,53.5V77.5"/><text class="t" x="7" y="19.5">pubprop</text><text class="k" x="122" y="20.5">[table]</text><text x="6" y="45">...</text><text x="5" y="70.5">&lt; 2</text><text class="r" x="100" y="70.5">0 rows</text><rect class="o" width="129" height="77.5"/></g>
<g id="biosource_bs_tool_pub" transform="translate(975,3644)"><rect class="w" width="253" height="77.5"/><rect class="h" width="253" height="29.5"/><path class="l" d="M0,29.5H253M0,53.5H253M106,53.5V77.5M199,53.5V77.5"/><text class="t" x="7" y="19.5">biosource.bs_tool_pub</text><text class="k" x="246" y="20.5">[table]</text><text x="6" y="45">...</text><text x="5" y="70.5">&lt; 1</text><text class="r" x="194" y="70.5">0 rows</text><rect class="o" width="253" height="77.5"/></g>
<g id="gem_ge_experimental_design_pub" transform="translate(923,3749)"><rect class="w" width="358" height="77.5"/><rect class="h" width="358" height="29.5"/><path class="l" d="M0,29.5H358M0,53.5H358M158,53.5V77.5M275,53.5V77.5"/><text class="t" x="7" y="19.5">gem.ge_experimental_design_pub</text><text class="k" x="351" y="20.5">[table]</text><text x="6" y="45">...</text><text x="5" y="70.5">&lt; 1</text><text class="r" x="270" y="70.5">0 rows</text><rect class="o" width="358" height="77.5"/></g>
<g id="gem_ge_platform_pub" transform="translate(977,3854)"><rect class="w" width="248" height="77.5"/><rect class="h" width="248" height="29.5"/><path class="l" d="M0,29.5H248M0,53.5H248M104,53.5V77.5M194,53.5V77.5"/><text class="t" x="7" y="19.5">gem.ge_platform_pub</text><text class="k" x="241" y="20.5">[table]</text><text x="6" y="45">...</text><text x="5" y="70.5">&lt; 1</text><text class="r" x="189" y="70.5">0 rows</text><rect class="o" width="248" height="77.5"/></g>
<g id="stockprop" transform="translate(1031,3995)"><rect class="w" width="143" height="77.5"/><rect class="h" width="143" height="29.5"/><path class="l" d="M0,29.5H143M0,53.5H143M30,53.5V77.5M112,53.5V77.5"/><text class="t" x="7" y="19.5">stockprop</text><text class="k" x="136" y="20.5">[table]</text><text x="6" y="45">...</text><text x="5" y="70.5">&lt; 2</text><text class="r" x="107" y="70.5">6,345 rows</text><text class="r" x="138" y="70.5">1 &gt;</text><rect class="o" width="143" height="77.5"/></g>
<g id="biosource_bs_protocol_pub" transform="translate(955,4100)"><rect class="w" width="293" height="77.5"/><rect class="h" width="293" height="29.5"/><path class="l" d="M0,29.5H293M0,53.5H293M126,53.5V77.5M227,53.5V77.5"/><text class="t" x="7" y="19.5">biosource.bs_protocol_pub</text><text class="k" x="286" y="20.5">[table]</text><text x="6" y="45">...</text><text x="5" y="70.5">&lt; 1</text><text class="r" x="222" y="70.5">0 rows</text><rect class="o" width="293" height="77.5"/></g>
<g id="phenome_locus_pub_ranking" transform="translate(947,4242)"><rect class="w" width="309" height="77.5"/><rect class="h" width="309" height="29.5"/><path class="l" d="M0,29.5H309M0,53.5H309M134,53.5V77.5M238,53.5V77.5"/><text class="t" x="7" y="19.5">phenome.locus_pub_ranking</text><text class="k" x="302" y="20.5">[table]</text><text x="6" y="45">...</text><text x="5" y="70.5">&lt; 1</text><text class="r" x="233" y="70.5">0 rows</text><rect class="o" width="309" height="77.5"/></g>
<g id="phenome_locus_pub_ranking_validate" transform="translate(906,4347)"><rect class="w" width="390" height="77.5"/><rect class="h" width="390" height="29.5"/><path class="l" d="M0,29.5H390M0,53.5H390M175,53.5V77.5M299,53.5V77.5"/><text class="t" x="7" y="19.5">phenome.locus_pub_ranking_validate</text><text class="k" x="383" y="20.5">[table]</text><text x="6" y="45">...</text><text x="5" y="70.5">&lt; 1</text><text class="r" x="294" y="70.5">0 rows</text><rect class="o" width="390" height="77.5"/></g>
<g id="phenome_pub_curator" transform="translate(976,4452)"><rect class="w" width="249" height="77.5"/><rect class="h" width="249" height="29.5"/><path class="l" d="M0,29.5H249M0,53.5H249M105,53.5V77.5M195,53.5V77.5"/><text class="t" x="7" y="19.5">phenome.pub_curator</text><text class="k" x="242" y="20.5">[table]</text><text x="6" y="45">...</text><text x="5" y="70.5">&lt; 1</text><text class="r" x="190" y="70.5">0 rows</text><rect class="o" width="249" height="77.5"/></g>
<g id="featureloc_pub" transform="translate(1008,4558)"><rect class="w" width="186" height="77.5"/><rect class="h" width="186" height="29.5"/><path class="l" d="M0,29.5H186M0,53.5H186M73,53.5V77.5M146,53.5V77.5"/><text class="t" x="7" y="19.5">featureloc_pub</text><text class="k" x="179" y="20.5">[table]</text><text x="6" y="45">...</text><text x="5" y="70.5">&lt; 2</text><text class="r" x="141" y="70.5">0 rows</text><rect class="o" width="186" height="77.5"/></g>
<g id="pubabstract" transform="translate(1020,4663)"><rect class="w" width="162" height="77.5"/><rect class="h" width="162" height="29.5"/><path class="l" d="M0,29.5H162M0,53.5H162M61,53.5V77.5M129,53.5V77.5"/><text class="t" x="7" y="19.5">pubabstract</text><text class="k" x="155" y="20.5">[table]</text><text x="6" y="45">...</text><text x="5" y="70.5">&lt; 1</text><text class="r" x="124" y="70.5">0 rows</text><rect class="o" width="162" height="77.5"/></g>
<g id="pubauthor" transform="translate(1028,4804)"><rect class="w" width="146" height="77.5"/><rect class="h" width="146" height="29.5"/><path class="l" d="M0,29.5H146M0,53.5H146M53,53.5V77.5M118,53.5V77.5"/><text class="t" x="7" y="19.5">pubauthor</text><text class="k" x="139" y="20.5">[table]</text><text x="6" y="45">...</text><text x="5" y="70.5">&lt; 1</text><text class="r" x="113" y="70.5">0 rows</text><rect class="o" width="146" height="77.5"/></g>
<g id="biosource_bs_sample_pub" transform="translate(960,4910)"><rect class="w" width="282" height="77.5"/><rect class="h" width="282" height="29.5"/><path class="l" d="M0,29.5H282M0,53.5H282M121,53.5V77.5M228,53.5V77.5"/><text class="t" x="7" y="19.5">biosource.bs_sample_pub</text><text class="k" x="275" y="20.5">[table]</text><text x="6" y="45">...</text><text x="5" y="70.5">&lt; 1</text><text class="r" x="223" y="70.5">0 rows</text><rect class="o" width="282" height="77.5"/></g>
<g id="nd_experiment_stock" transform="translate(980,5088)"><rect class="w" width="242" height="77.5"/><rect class="h" width="242" height="29.5"/><path class="l" d="M0,29.5H242M0,53.5H242M81,53.5V77.5M187,53.5V77.5"/><text class="t" x="7" y="19.5">nd_experiment_stock</text><text class="k" x="235" y="20.5">[table]</text><text x="6" y="45">...</text><text x="5" y="70.5">&lt; 3</text><text class="r" x="182" y="70.5">6,535 rows</text><text class="r" x="237" y="70.5">2 &gt;</text><rect class="o" width="242" height="77.5"/></g>
<g id="pub_relationship" transform="translate(965,5194)"><rect class="w" width="272" height="173.5"/><rect class="h" width="272" height="29.5"/><path class="l" d="M0,29.5H272M0,59H272M0,88.5H272M0,117.5H272M0,146.5H272M204,29.5V146.5M91,146.5V173.5M204,146.5V173.5"/><text class="t" x="9" y="19.5">pub_relationship</text><text class="k" x="264" y="20.5">[table]</text><use xlink:href="#key" href="#key" x="15.5" y="45" stroke="#e6c200"/><use xlink:href="#key" href="#key" x="15.5" y="74.5" stroke="#b4b4b4"/><use xlink:href="#key" href="#key" x="15.5" y="104" stroke="#b4b4b4"/><use xlink:href="#key" href="#key" x="15.5" y="133" stroke="#b4b4b4"/><text x="28" y="49.5">pub_relationship_id</text><text x="208" y="49.5">serial[10]</text><text x="28" y="79">subject_id</text><text x="208" y="79">int4[10]</text><text x="28" y="108.5">object_id</text><text x="208" y="108.5">int4[10]</text><text x="28" y="137.5">type_id</text><text x="208" y="137.5">int4[10]</text><text x="5" y="165">&lt; 3</text><text class="r" x="86" y="165">0 rows</text><text class="r" x="267" y="165">0 &gt;</text><rect width="272" height="173.5" fill="none" stroke="#000" stroke-width="3"/></g>
<g id="stock_pub" transform="translate(1031,5397)"><rect class="w" width="143" height="77.5"/><rect class="h" width="143" height="29.5"/><path class="l" d="M0,29.5H143M0,53.5H143M50,53.5V77.5M119,53.5V77.5"/><text class="t" x="7" y="19.5">stock_pub</text><text class="k" x="136" y="20.5">[table]</text><text x="6" y="45">...</text><text x="5" y="70.5">&lt; 2</text><text class="r" x="114" y="70.5">0 rows</text><rect class="o" width="143" height="77.5"/></g>
<g id="stock_relationship" transform="translate(993,5538)"><rect class="w" width="217" height="77.5"/><rect class="h" width="217" height="29.5"/><path class="l" d="M0,29.5H217M0,53.5H217M68,53.5V77.5M169,53.5V77.5"/><text class="t" x="7" y="19.5">stock_relationship</text><text class="k" x="210" y="20.5">[table]</text><text x="6" y="45">...</text><text x="5" y="70.5">&lt; 3</text><text class="r" x="164" y="70.5">3,297 rows</text><text class="r" x="212" y="70.5">2 &gt;</text><rect class="o" width="217" height="77.5"/></g>
<g id="stock_cvterm" transform="translate(1016,5643)"><rect class="w" width="172" height="77.5"/><rect class="h" width="172" height="29.5"/><path class="l" d="M0,29.5H172M0,53.5H172M59,53.5V77.5M126,53.5V77.5"/><text class="t" x="7" y="19.5">stock_cvterm</text><text class="k" x="165" y="20.5">[table]</text><text x="6" y="45">...</text><text x="5" y="70.5">&lt; 3</text><text class="r" x="121" y="70.5">0 rows</text><text class="r" x="167" y="70.5">1 &gt;</text><rect class="o" width="172" height="77.5"/></g>
<g id="phenome_cvterm_pub_ranking" transform="translate(939,5785)"><rect class="w" width="325" height="77.5"/><rect class="h" width="325" height="29.5"/><path class="l" d="M0,29.5H325M0,53.5H325M142,53.5V77.5M250,53.5V77.5"/><text class="t" x="7" y="19.5">phenome.cvterm_pub_ranking</text><text class="k" x="318" y="20.5">[table]</text><text x="6" y="45">...</text><text x="5" y="70.5">&lt; 2</text><text class="r" x="245" y="70.5">0 rows</text><rect class="o" width="325" height="77.5"/></g>
<g id="project_pub" transform="translate(1023,5891)"><rect class="w" width="158" height="77.5"/><rect class="h" width="158" height="29.5"/><path class="l" d="M0,29.5H158M0,53.5H158M58,53.5V77.5M126,53.5V77.5"/><text class="t" x="7" y="19.5">project_pub</text><text class="k" x="151" y="20.5">[table]</text><text x="6" y="45">...</text><text x="5" y="70.5">&lt; 2</text><text class="r" x="121" y="70.5">0 rows</text><rect class="o" width="158" height="77.5"/></g>
<g id="phenome_project_md_image" transform="translate(949,6032)"><rect class="w" width="305" height="77.5"/><rect class="h" width="305" height="29.5"/><path class="l" d="M0,29.5H305M0,53.5H305M132,53.5V77.5M236,53.5V77.5"/><text class="t" x="7" y="19.5">phenome.project_md_image</text><text class="k" x="298" y="20.5">[table]</text><text x="6" y="45">...</text><text x="5" y="70.5">&lt; 2</text><text class="r" x="231" y="70.5">0 rows</text><rect class="o" width="305" height="77.5"/></g>
<g id="project_relationship" transform="translate(985,6137)"><rect class="w" width="233" height="77.5"/><rect class="h" width="233" height="29.5"/><path class="l" d="M0,29.5H233M0,53.5H233M92,53.5V77.5M187,53.5V77.5"/><text class="t" x="7" y="19.5">project_relationship</text><text class="k" x="226" y="20.5">[table]</text><text x="6" y="45">...</text><text x="5" y="70.5">&lt; 3</text><text class="r" x="182" y="70.5">27 rows</text><rect class="o" width="233" height="77.5"/></g>
<g id="projectprop" transform="translate(1023,6241)"><rect class="w" width="158" height="77.5"/><rect class="h" width="158" height="29.5"/><path class="l" d="M0,29.5H158M0,53.5H158M58,53.5V77.5M128,53.5V77.5"/><text class="t" x="7" y="19.5">projectprop</text><text class="k" x="151" y="20.5">[table]</text><text x="6" y="45">...</text><text x="5" y="70.5">&lt; 2</text><text class="r" x="123" y="70.5">55 rows</text><rect class="o" width="158" height="77.5"/></g>
<g id="stockcollection" transform="translate(1008,6347)"><rect class="w" width="188" height="77.5"/><rect class="h" width="188" height="29.5"/><path class="l" d="M0,29.5H188M0,53.5H188M67,53.5V77.5M139,53.5V77.5"/><text class="t" x="7" y="19.5">stockcollection</text><text class="k" x="181" y="20.5">[table]</text><text x="6" y="45">...</text><text x="5" y="70.5">&lt; 2</text><text class="r" x="134" y="70.5">0 rows</text><text class="r" x="183" y="70.5">2 &gt;</text><rect class="o" width="188" height="77.5"/></g>
<g id="contact_relationship" transform="translate(985,6452)"><rect class="w" width="235" height="77.5"/><rect class="h" width="235" height="29.5"/><path class="l" d="M0,29.5H235M0,53.5H235M96,53.5V77.5M184,53.5V77.5"/><text class="t" x="7" y="19.5">contact_relationship</text><text class="k" x="228" y="20.5">[table]</text><text x="6" y="45">...</text><text x="5" y="70.5">&lt; 3</text><text class="r" x="179" y="70.5">0 rows</text><rect class="o" width="235" height="77.5"/></g>
<g id="phylonode_relationship" transform="translate(1395,322)"><rect class="w" width="265" height="77.5"/><rect class="h" width="265" height="29.5"/><path class="l" d="M0,29.5H265M0,53.5H265M113,53.5V77.5M206,53.5V77.5"/><text class="t" x="7" y="19.5">phylonode_relationship</text><text class="k" x="258" y="20.5">[table]</text><text x="6" y="45">...</text><text x="5" y="70.5">&lt; 4</text><text class="r" x="201" y="70.5">0 rows</text><rect class="o" width="265" height="77.5"/></g>
<g id="phylonodeprop" transform="translate(1433,507)"><rect class="w" width="189" height="77.5"/><rect class="h" width="189" height="29.5"/><path class="l" d="M0,29.5H189M0,53.5H189M75,53.5V77.5M149,53.5V77.5"/><text class="t" x="7" y="19.5">phylonodeprop</text><text class="k" x="182" y="20.5">[table]</text><text x="6" y="45">...</text><text x="5" y="70.5">&lt; 2</text><text class="r" x="144" y="70.5">0 rows</text><rect class="o" width="189" height="77.5"/></g>
<g id="feature_relationshipprop" transform="translate(1389,1778)"><rect class="w" width="278" height="77.5"/><rect class="h" width="278" height="29.5"/><path class="l" d="M0,29.5H278M0,53.5H278M112,53.5V77.5M205,53.5V77.5"/><text class="t" x="7" y="19.5">feature_relationshipprop</text><text class="k" x="271" y="20.5">[table]</text><text x="6" y="45">...</text><text x="5" y="70.5">&lt; 2</text><text class="r" x="200" y="70.5">0 rows</text><text class="r" x="273" y="70.5">1 &gt;</text><rect class="o" width="278" height="77.5"/></g>
<g id="feature_cvtermprop" transform="translate(1411,1928)"><rect class="w" width="233" height="77.5"/><rect class="h" width="233" height="29.5"/><path class="l" d="M0,29.5H233M0,53.5H233M97,53.5V77.5M182,53.5V77.5"/><text class="t" x="7" y="19.5">feature_cvtermprop</text><text class="k" x="226" y="20.5">[table]</text><text x="6" y="45">...</text><text x="5" y="70.5">&lt; 2</text><text class="r" x="177" y="70.5">0 rows</text><rect class="o" width="233" height="77.5"/></g>
<g id="phylonode_pub" transform="translate(1433,2121)"><rect class="w" width="189" height="77.5"/><rect class="h" width="189" height="29.5"/><path class="l" d="M0,29.5H189M0,53.5H189M75,53.5V77.5M149,53.5V77.5"/><text class="t" x="7" y="19.5">phylonode_pub</text><text class="k" x="182" y="20.5">[table]</text><text x="6" y="45">...</text><text x="5" y="70.5">&lt; 2</text><text class="r" x="144" y="70.5">0 rows</text><rect class="o" width="189" height="77.5"/></g>
<g id="featureprop_pub" transform="translate(1426,2401)"><rect class="w" width="203" height="77.5"/><rect class="h" width="203" height="29.5"/><path class="l" d="M0,29.5H203M0,53.5H203M82,53.5V77.5M159,53.5V77.5"/><text class="t" x="7" y="19.5">featureprop_pub</text><text class="k" x="196" y="20.5">[table]</text><text x="6" y="45">...</text><text x="5" y="70.5">&lt; 2</text><text class="r" x="154" y="70.5">0 rows</text><rect class="o" width="203" height="77.5"/></g>
<g id="feature_relationship_pub" transform="translate(1389,2856)"><rect class="w" width="278" height="77.5"/><rect class="h" width="278" height="29.5"/><path class="l" d="M0,29.5H278M0,53.5H278M119,53.5V77.5M215,53.5V77.5"/><text class="t" x="7" y="19.5">feature_relationship_pub</text><text class="k" x="271" y="20.5">[table]</text><text x="6" y="45">...</text><text x="5" y="70.5">&lt; 2</text><text class="r" x="210" y="70.5">0 rows</text><rect class="o" width="278" height="77.5"/></g>
<g id="phenotype_comparison_cvterm" transform="translate(1361,3005)"><rect class="w" width="333" height="77.5"/><rect class="h" width="333" height="29.5"/><path class="l" d="M0,29.5H333M0,53.5H333M147,53.5V77.5M258,53.5V77.5"/><text class="t" x="7" y="19.5">phenotype_comparison_cvterm</text><text class="k" x="326" y="20.5">[table]</text><text x="6" y="45">...</text><text x="5" y="70.5">&lt; 3</text><text class="r" x="253" y="70.5">0 rows</text><rect class="o" width="333" height="77.5"/></g>
<g id="stockprop_pub" transform="translate(1436,3782)"><rect class="w" width="185" height="77.5"/><rect class="h" width="185" height="29.5"/><path class="l" d="M0,29.5H185M0,53.5H185M72,53.5V77.5M145,53.5V77.5"/><text class="t" x="7" y="19.5">stockprop_pub</text><text class="k" x="178" y="20.5">[table]</text><text x="6" y="45">...</text><text x="5" y="70.5">&lt; 2</text><text class="r" x="140" y="70.5">0 rows</text><rect class="o" width="185" height="77.5"/></g>
<g id="feature_cvterm_pub" transform="translate(1411,4381)"><rect class="w" width="233" height="77.5"/><rect class="h" width="233" height="29.5"/><path class="l" d="M0,29.5H233M0,53.5H233M97,53.5V77.5M182,53.5V77.5"/><text class="t" x="7" y="19.5">feature_cvterm_pub</text><text class="k" x="226" y="20.5">[table]</text><text x="6" y="45">...</text><text x="5" y="70.5">&lt; 2</text><text class="r" x="177" y="70.5">0 rows</text><rect class="o" width="233" height="77.5"/></g>
<g id="nd_experiment_stockprop" transform="translate(1385,5148)"><rect class="w" width="285" height="77.5"/><rect class="h" width="285" height="29.5"/><path class="l" d="M0,29.5H285M0,53.5H285M123,53.5V77.5M221,53.5V77.5"/><text class="t" x="7" y="19.5">nd_experiment_stockprop</text><text class="k" x="278" y="20.5">[table]</text><text x="6" y="45">...</text><text x="5" y="70.5">&lt; 2</text><text class="r" x="216" y="70.5">0 rows</text><rect class="o" width="285" height="77.5"/></g>
<g id="stock_relationship_pub" transform="translate(1398,5373)"><rect class="w" width="260" height="77.5"/><rect class="h" width="260" height="29.5"/><path class="l" d="M0,29.5H260M0,53.5H260M110,53.5V77.5M202,53.5V77.5"/><text class="t" x="7" y="19.5">stock_relationship_pub</text><text class="k" x="253" y="20.5">[table]</text><text x="6" y="45">...</text><text x="5" y="70.5">&lt; 2</text><text class="r" x="197" y="70.5">0 rows</text><rect class="o" width="260" height="77.5"/></g>
<g id="stock_relationship_cvterm" transform="translate(1383,5538)"><rect class="w" width="290" height="77.5"/><rect class="h" width="290" height="29.5"/><path class="l" d="M0,29.5H290M0,53.5H290M125,53.5V77.5M223,53.5V77.5"/><text class="t" x="7" y="19.5">stock_relationship_cvterm</text><text class="k" x="283" y="20.5">[table]</text><text x="6" y="45">...</text><text x="5" y="70.5">&lt; 3</text><text class="r" x="218" y="70.5">0 rows</text><rect class="o" width="290" height="77.5"/></g>
<g id="stock_cvtermprop" transform="translate(1421,5801)"><rect class="w" width="214" height="77.5"/><rect class="h" width="214" height="29.5"/><path class="l" d="M0,29.5H214M0,53.5H214M87,53.5V77.5M167,53.5V77.5"/><text class="t" x="7" y="19.5">stock_cvtermprop</text><text class="k" x="207" y="20.5">[table]</text><text x="6" y="45">...</text><text x="5" y="70.5">&lt; 2</text><text class="r" x="162" y="70.5">0 rows</text><rect class="o" width="214" height="77.5"/></g>
<g id="stockcollectionprop" transform="translate(1413,6434)"><rect class="w" width="231" height="77.5"/><rect class="h" width="231" height="29.5"/><path class="l" d="M0,29.5H231M0,53.5H231M95,53.5V77.5M180,53.5V77.5"/><text class="t" x="7" y="19.5">stockcollectionprop</text><text class="k" x="224" y="20.5">[table]</text><text x="6" y="45">...</text><text x="5" y="70.5">&lt; 2</text><text class="r" x="175" y="70.5">0 rows</text><rect class="o" width="231" height="77.5"/></g>
<g id="feature_relationshipprop_pub" transform="translate(1759,3256)"><rect class="w" width="321" height="77.5"/><rect class="h" width="321" height="29.5"/><path class="l" d="M0,29.5H321M0,53.5H321M141,53.5V77.5M247,53.5V77.5"/><text class="t" x="7" y="19.5">feature_relationshipprop_pub</text><text class="k" x="314" y="20.5">[table]</text><text x="6" y="45">...</text><text x="5" y="70.5">&lt; 2</text><text class="r" x="242" y="70.5">0 rows</text><rect class="o" width="321" height="77.5"/></g>
</g>
<text x="16" y="6738">Generated by SchemaSpy</text>
</svg>
